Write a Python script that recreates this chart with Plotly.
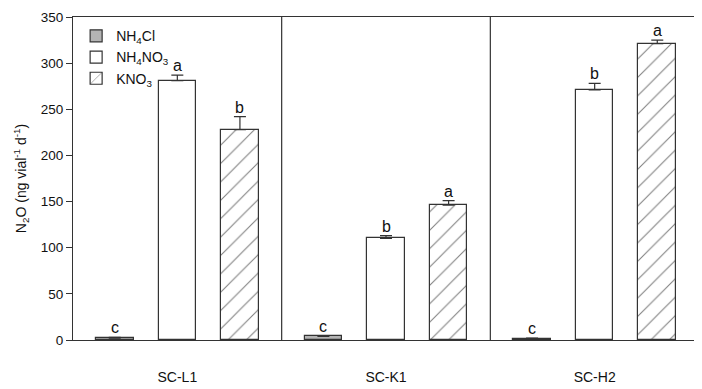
import plotly.graph_objects as go

sites = ["SC-L1", "SC-K1", "SC-H2"]
series = ["NH<sub>4</sub>Cl", "NH<sub>4</sub>NO<sub>3</sub>", "KNO<sub>3</sub>"]
values = {
    "NH4Cl": [2, 4, 1.5],
    "NH4NO3": [281, 110, 271],
    "KNO3": [228, 146, 321],
}
errors = {
    "NH4Cl": [0.8, 0.8, 0.5],
    "NH4NO3": [6, 3, 7],
    "KNO3": [14, 5, 4],
}
letters = {
    "NH4Cl": ["c", "c", "c"],
    "NH4NO3": ["a", "b", "b"],
    "KNO3": ["b", "a", "a"],
}

keys = ["NH4Cl", "NH4NO3", "KNO3"]
offsets = [-0.3, 0.0, 0.3]
fills = ["#b4b4b4", "white", "white"]
patterns = ["", "", "/"]
line_col = "#333333"

fig = go.Figure()
for k, name, off, fc, pat in zip(keys, series, offsets, fills, patterns):
    xs = [i + off for i in range(len(sites))]
    fig.add_trace(go.Bar(
        x=xs, y=values[k], width=0.18, name=name,
        marker=dict(color=fc, line=dict(color=line_col, width=1.2),
                    pattern=dict(shape=pat, fgcolor="#000000", bgcolor="white", size=13, solidity=0.08)),
        error_y=dict(type="data", symmetric=False, array=errors[k], arrayminus=[0]*3,
                     color=line_col, thickness=1.2, width=6),
    ))
    for i in range(len(sites)):
        fig.add_annotation(x=xs[i], y=values[k][i] + errors[k][i], text=letters[k][i],
                           showarrow=False, yanchor="bottom", yshift=-1,
                           font=dict(size=16, color="#111111"))

for b in [0.5, 1.5]:
    fig.add_shape(type="line", x0=b, x1=b, y0=0, y1=350, xref="x", yref="y",
                  line=dict(color=line_col, width=1.2))

fig.update_layout(
    width=694, height=381,
    margin=dict(l=65, r=2, t=4, b=49),
    plot_bgcolor="white", paper_bgcolor="white",
    font=dict(family="Liberation Sans, Arial, sans-serif", size=13, color="#111111"),
    showlegend=True,
    legend=dict(x=0.005, y=0.99, xanchor="left", yanchor="top", bgcolor="rgba(0,0,0,0)",
                font=dict(size=14), itemwidth=30, tracegroupgap=2),
    bargap=0,
)
fig.update_xaxes(range=[-0.5, 2.5], tickvals=[0, 1, 2], ticktext=sites, ticks="",
                 showline=True, linecolor=line_col, linewidth=1.2, mirror=True,
                 showgrid=False, zeroline=False, ticklabelstandoff=24,
                 tickfont=dict(size=14))
fig.update_yaxes(range=[0, 350], dtick=50, ticks="outside", ticklen=6, tickcolor=line_col,
                 showline=True, linecolor=line_col, linewidth=1.2, mirror=True,
                 showgrid=False, zeroline=False, tickfont=dict(size=13.5),
                 ticklabeloverflow="allow",
                 title=dict(text="N<sub>2</sub>O (ng vial<sup>-1</sup> d<sup>-1</sup>)", font=dict(size=14), standoff=10))

fig.write_html("out.html")
